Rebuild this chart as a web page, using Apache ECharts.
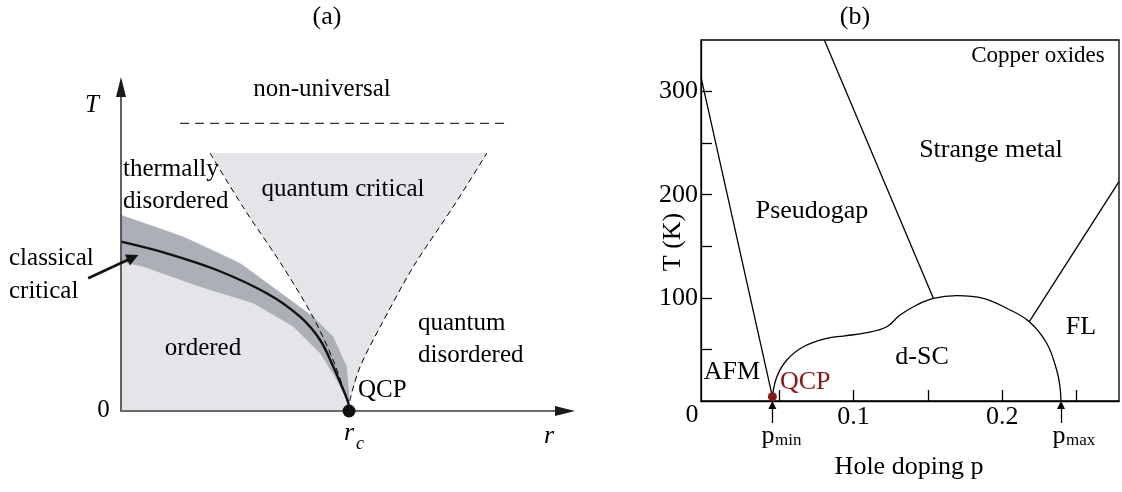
<!DOCTYPE html>
<html>
<head>
<meta charset="utf-8">
<script src="https://cdn.jsdelivr.net/npm/echarts@6/dist/echarts.min.js"></script>
<style>
  html, body { margin: 0; padding: 0; background: #fff; }
  #chart { width: 1122px; height: 492px; }
</style>
</head>
<body>
<div id="chart"></div>
<script>
// ---------- Panel (a): generic quantum phase transition (schematic units, r_c = 1) ----------
const rc = 1;
const rMax = 1.947;
const tMax = 3.24;
const criticalLine = [[0, 1.693], [0.200, 1.577], [0.420, 1.41], [0.639, 1.177], [0.785, 0.943],
  [0.873, 0.71], [0.931, 0.443], [0.975, 0.21], [0.997, 0.077], [1, 0]];
const bandUpper = [[0, 1.96], [0.273, 1.743], [0.522, 1.477], [0.683, 1.21], [0.843, 0.943],
  [0.931, 0.743], [0.990, 0.443], [1.0, 0.18], [1, 0]];
const bandLower = [[0, 1.493], [0.098, 1.443], [0.346, 1.243], [0.580, 1.077], [0.756, 0.843],
  [0.873, 0.577], [0.946, 0.31], [0.990, 0.11], [1, 0]];
const fanLeft = [[0.390, 2.58], [0.535, 2.04], [0.711, 1.44], [0.842, 0.94], [0.930, 0.51], [0.991, 0.11], [1, 0]];
const fanRight = [[1, 0], [1.004, 0.11], [1.048, 0.44], [1.136, 0.84], [1.281, 1.44], [1.456, 2.04], [1.605, 2.58]];
const crossoverLine = [[0.259, 2.877], [1.697, 2.877]];
const classicalArrow = [[-0.144, 1.327], [0.052, 1.535]];

// ---------- Panel (b): cuprate phase diagram, hole doping p vs T (K) ----------
const pMin = 0.0455;
const pMax = 0.2395;
const qcpT = 4.2;
const afmLine = [[-0.0025, 314], [pMin, qcpT]];
const pseudogapLine = [[0.0804, 350], [0.1537, 99.6]];
const flLine = [[0.2785, 212.7], [0.2182, 76.9]];
const scDome = [[0.0455, 4.2], [0.0485, 23.5], [0.0552, 39.7], [0.0663, 52.6], [0.0821, 60.8],
  [0.0932, 63], [0.1089, 66.2], [0.1224, 72], [0.1313, 83.4], [0.1425, 93.1], [0.1537, 99.6],
  [0.1694, 102.1], [0.1873, 99.6], [0.2030, 89.9], [0.2182, 76.9], [0.2299, 56], [0.2366, 30],
  [0.2388, 14], [0.2395, 0]];
const xTickValues = [0.05, 0.1, 0.15, 0.2, 0.25];
const xLabelValues = [0.1, 0.2];
const yTickValues = [50, 100, 150, 200, 250, 300];
const yLabelValues = [100, 200, 300];

const SERIF = '"Liberation Serif", "DejaVu Serif", serif';
const LIGHT = '#e4e4e9';
const DARK = '#abafb6';
const QCP_RED = '#8e1414';

function polygonSeries(points, fill, z) {
  return {
    type: 'custom', xAxisIndex: 0, yAxisIndex: 0, z: z, silent: true, clip: false,
    data: points,
    renderItem: function (params, api) {
      if (params.dataIndex !== 0) return null;
      return {
        type: 'polygon',
        shape: { points: points.map(function (p) { return api.coord(p); }) },
        style: { fill: fill, stroke: null }
      };
    }
  };
}

function lineSeries(data, axis, style, extra) {
  return Object.assign({
    type: 'line', xAxisIndex: axis, yAxisIndex: axis, data: data,
    symbol: 'none', silent: true, animation: false, lineStyle: style, z: 6
  }, extra || {});
}

function txt(text, x, y, o) {
  o = o || {};
  return {
    type: 'text', x: x, y: y, z: 100, rotation: o.rotation || 0, silent: true,
    style: {
      text: text, fill: o.color || '#000', fontFamily: SERIF,
      fontSize: o.size || 25, fontStyle: o.italic ? 'italic' : 'normal',
      textAlign: o.align || 'center', textVerticalAlign: 'middle'
    }
  };
}

const chart = echarts.init(document.getElementById('chart'), null, { renderer: 'canvas' });

const option = {
  animation: false,
  backgroundColor: '#fff',
  grid: [
    { left: 121, top: 87, width: 444, height: 324, show: false },
    { left: 701, top: 40, width: 418, height: 361, show: true, borderColor: '#000', borderWidth: 1.3 }
  ],
  xAxis: [
    {
      gridIndex: 0, type: 'value', min: 0, max: rMax, z: 8,
      axisLine: { show: true, onZero: false, lineStyle: { color: '#6a6a6a', width: 2 } },
      axisTick: { show: false }, axisLabel: { show: false }, splitLine: { show: false }
    },
    {
      gridIndex: 1, type: 'value', min: -0.0025, max: 0.2785,
      axisLine: { show: true, onZero: false, lineStyle: { color: '#000', width: 1.3 } },
      axisTick: { show: true, inside: true, length: 11, customValues: xTickValues,
        lineStyle: { color: '#000', width: 1.3 } },
      axisLabel: { show: true, customValues: xLabelValues, margin: 3, color: '#000',
        fontFamily: SERIF, fontSize: 26 },
      splitLine: { show: false }
    }
  ],
  yAxis: [
    {
      gridIndex: 0, type: 'value', min: 0, max: tMax, z: 8,
      axisLine: { show: true, onZero: false, lineStyle: { color: '#3a3a3a', width: 1.6 } },
      axisTick: { show: false }, axisLabel: { show: false }, splitLine: { show: false }
    },
    {
      gridIndex: 1, type: 'value', min: 0, max: 350,
      axisLine: { show: true, onZero: false, lineStyle: { color: '#000', width: 1.3 } },
      axisTick: { show: true, inside: true, length: 11, customValues: yTickValues,
        lineStyle: { color: '#000', width: 1.3 } },
      axisLabel: { show: true, customValues: yLabelValues, margin: 3, color: '#000',
        fontFamily: SERIF, fontSize: 26 },
      splitLine: { show: false }
    }
  ],
  series: [
    // (a) shaded regions
    polygonSeries(fanLeft.concat(fanRight), LIGHT, 1),
    lineSeries(bandUpper, 0, { width: 0 }, { areaStyle: { color: LIGHT, opacity: 1 }, z: 2, smooth: 0.3 }),
    polygonSeries(bandUpper.concat(bandLower.slice().reverse()), DARK, 3),
    // (a) crossover lines
    lineSeries(crossoverLine, 0, { color: '#000', width: 1, type: [9, 6] }),
    lineSeries(fanLeft, 0, { color: '#000', width: 1, type: [6, 4] }, { smooth: 0.3 }),
    lineSeries(fanRight, 0, { color: '#000', width: 1, type: [6, 4] }, { smooth: 0.3 }),
    // (a) classical critical line and QCP
    lineSeries(criticalLine, 0, { color: '#111', width: 2.4 }, { smooth: 0.35, z: 7 }),
    {
      type: 'scatter', xAxisIndex: 0, yAxisIndex: 0, data: [[rc, 0]], symbolSize: 13,
      itemStyle: { color: '#111', opacity: 1 }, clip: false, silent: true, z: 9
    },
    // (a) axis arrowheads
    {
      type: 'scatter', xAxisIndex: 0, yAxisIndex: 0, clip: false, silent: true, z: 9,
      symbol: 'triangle', symbolSize: [10, 20], itemStyle: { color: '#1a1a1a', opacity: 1 },
      data: [
        { value: [0, tMax], symbolRotate: 0 },
        { value: [rMax, 0], symbolRotate: -90 }
      ]
    },
    {
      type: 'lines', coordinateSystem: 'cartesian2d', xAxisIndex: 0, yAxisIndex: 0, clip: false,
      symbol: ['none', 'triangle'], symbolSize: 12, silent: true, z: 9,
      lineStyle: { color: '#111', width: 2.6, opacity: 1 },
      data: [{ coords: classicalArrow }]
    },
    // (b) phase boundaries
    lineSeries(afmLine, 1, { color: '#000', width: 1.3 }),
    lineSeries(pseudogapLine, 1, { color: '#000', width: 1.3 }),
    lineSeries(flLine, 1, { color: '#000', width: 1.3 }),
    lineSeries(scDome, 1, { color: '#000', width: 1.3 }, { smooth: 0.4 }),
    {
      type: 'scatter', xAxisIndex: 1, yAxisIndex: 1, data: [[pMin, qcpT]], symbolSize: 9,
      itemStyle: { color: QCP_RED, opacity: 1 }, clip: false, silent: true, z: 9
    },
    {
      type: 'lines', coordinateSystem: 'cartesian2d', xAxisIndex: 1, yAxisIndex: 1, clip: false,
      symbol: ['none', 'triangle'], symbolSize: 8, silent: true, z: 9,
      lineStyle: { color: '#000', width: 1.3, opacity: 1 },
      data: [{ coords: [[pMin, -21.3], [pMin, -3.9]] }, { coords: [[pMax, -21.3], [pMax, -3.9]] }]
    }
  ],
  graphic: [
    // panel (a) text
    txt('(a)', 327, 17, { size: 26 }),
    txt('non-universal', 322, 89),
    txt('T', 92, 105, { italic: true, size: 25 }),
    txt('thermally', 123, 169, { align: 'left' }),
    txt('disordered', 123, 201, { align: 'left' }),
    txt('quantum critical', 343, 189),
    txt('classical', 9, 258, { align: 'left' }),
    txt('critical', 9, 291, { align: 'left' }),
    txt('ordered', 203, 348),
    txt('quantum', 418, 323, { align: 'left' }),
    txt('disordered', 418, 355, { align: 'left' }),
    txt('QCP', 358, 390, { align: 'left' }),
    txt('0', 103.5, 410, { size: 25 }),
    txt('r', 349, 433, { italic: true, size: 26 }),
    txt('c', 356, 444, { italic: true, size: 18, align: 'left' }),
    txt('r', 549, 436, { italic: true, size: 26 }),
    // panel (b) text
    txt('(b)', 855, 17, { size: 26 }),
    txt('Copper oxides', 1038, 56, { size: 23 }),
    txt('Strange metal', 991, 150, { size: 26 }),
    txt('Pseudogap', 812, 211, { size: 26 }),
    txt('AFM', 732, 372, { size: 26 }),
    txt('QCP', 780, 382, { size: 26, align: 'left', color: QCP_RED }),
    txt('d-SC', 922, 357, { size: 26 }),
    txt('FL', 1081, 327, { size: 26 }),
    txt('0', 692, 415, { size: 26 }),
    txt('p', 768, 436, { size: 26 }),
    txt('min', 775, 441, { size: 17, align: 'left' }),
    txt('p', 1059, 436, { size: 26 }),
    txt('max', 1066, 441, { size: 17, align: 'left' }),
    txt('T (K)', 673, 242, { size: 26, rotation: Math.PI / 2 }),
    txt('Hole doping p', 909, 467, { size: 26 })
  ]
};

chart.setOption(option);
</script>
</body>
</html>
